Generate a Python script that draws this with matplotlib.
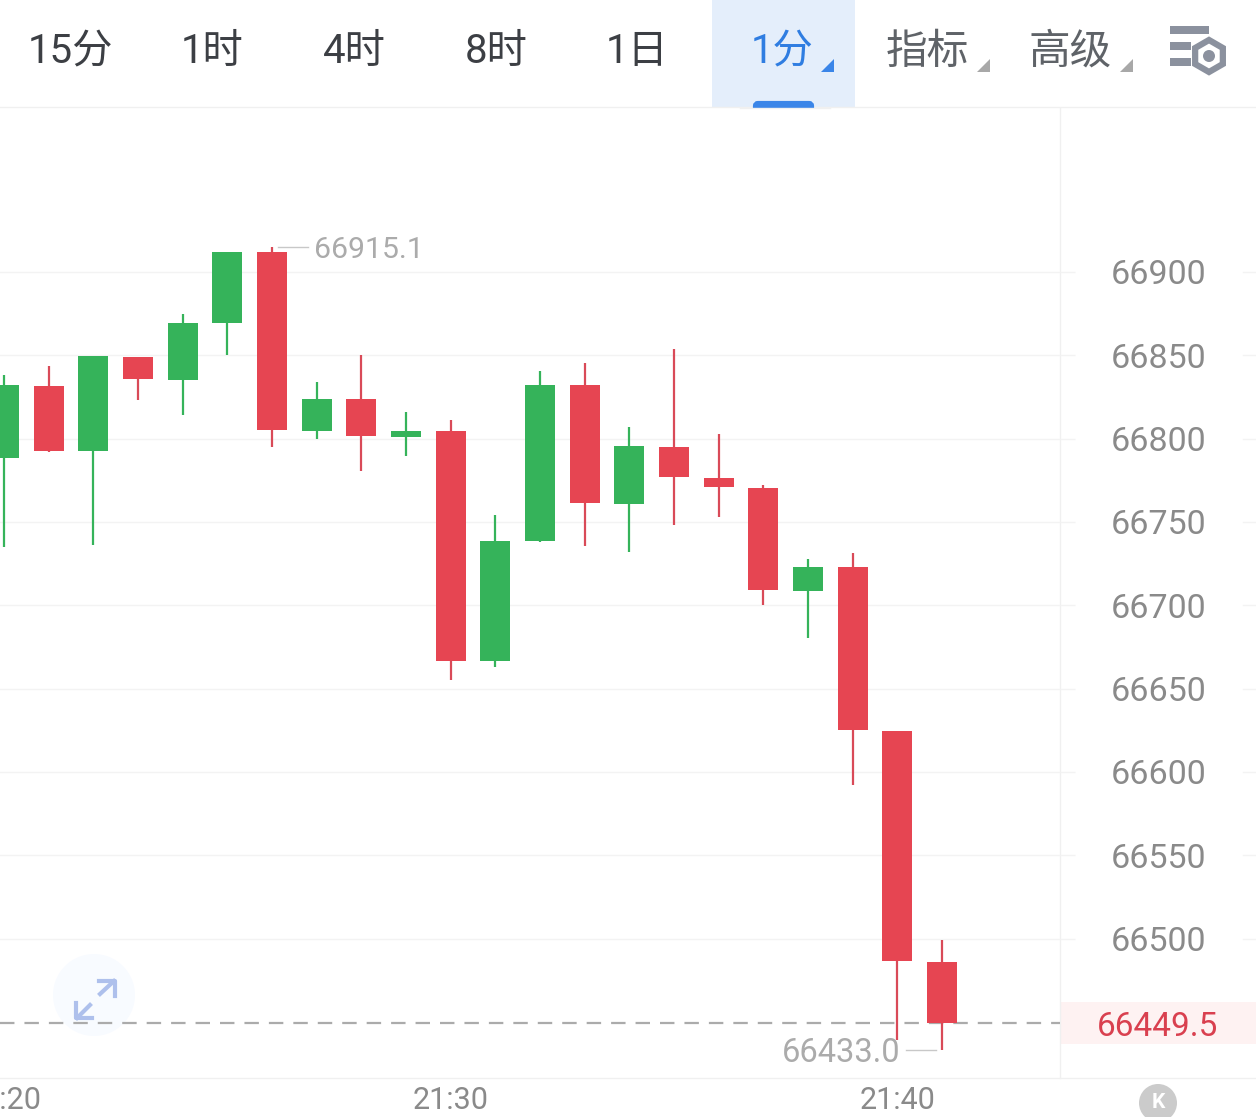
import matplotlib
matplotlib.use("Agg")
import matplotlib.pyplot as plt
from matplotlib.patches import Rectangle, Circle, Polygon, RegularPolygon, FancyBboxPatch

plt.rcParams['font.family'] = ['Roboto', 'Noto Sans CJK SC', 'DejaVu Sans']

# ---- data ----
opens  = [66788.4, 66831.6, 66792.6, 66849.0, 66835.2, 66869.4, 66912.0, 66804.6, 66823.8, 66801.0, 66804.6,
          66666.6, 66738.6, 66832.2, 66760.8, 66795.0, 66776.4, 66770.4, 66708.6, 66723.0, 66624.6, 66486.0]
closes = [66832.2, 66792.6, 66849.6, 66835.8, 66869.4, 66912.0, 66805.2, 66823.8, 66801.6, 66804.6, 66666.6,
          66738.6, 66832.2, 66761.4, 66795.6, 66777.0, 66771.0, 66709.2, 66723.0, 66625.2, 66486.6, 66449.5]
highs  = [66838.2, 66843.6, 66849.6, 66849.0, 66874.8, 66912.0, 66915.1, 66834.0, 66850.2, 66816.0, 66811.2,
          66754.2, 66840.6, 66845.4, 66807.0, 66853.8, 66802.8, 66772.2, 66727.8, 66731.4, 66624.6, 66499.2]
lows   = [66735.0, 66792.0, 66736.2, 66823.2, 66814.2, 66850.2, 66795.0, 66799.8, 66780.6, 66789.6, 66655.2,
          66663.0, 66738.0, 66735.6, 66732.0, 66748.2, 66753.0, 66700.2, 66680.4, 66592.2, 66439.2, 66433.0]
price_ticks = [66900, 66850, 66800, 66750, 66700, 66650, 66600, 66550, 66500]
time_pos = [0, 10, 20]
time_labels = ["21:20", "21:30", "21:40"]
tabs = ["15分", "1时", "4时", "8时", "1日", "1分", "指标", "高级"]
tab_x = [70, 212, 354, 496, 637, 782, 927, 1070]
last_price = 66449.5
max_price = 66915.1
min_price = 66433.0

W, H = 1256, 1117
UP = "#35B35A"
DOWN = "#E64552"
DOWN_WICK = "#D94A58"
GRID = "#F3F3F3"
TICKC = "#8A8A8A"

fig = plt.figure(figsize=(W / 100, H / 100), dpi=100, facecolor="white")

# pixel overlay (background furniture)
bg = fig.add_axes([0, 0, 1, 1], zorder=0)
bg.set_xlim(0, W)
bg.set_ylim(H, 0)
bg.axis("off")
bg.add_patch(Rectangle((712, 0), 143, 107, color="#E4EEFB", lw=0))
bg.add_patch(Rectangle((1060, 1002), 196, 42, color="#FEF2F2", lw=0))
bg.add_patch(Circle((94, 995), 41, color="#F8FBFF", lw=0))
bg.plot([0, W], [107, 107], color="#F0F0F0", lw=1)
bg.plot([0, W], [1078, 1078], color="#F0F0F0", lw=1)
bg.plot([1059.5, 1059.5], [108, 1078], color="#F0F0F0", lw=1)
for t in price_ticks:
    y = 272 + (66900 - t) * 1.6663
    bg.plot([1243, W], [y, y], color=GRID, lw=1)

# main chart axes
L, R, T, B = 0, 1060, 108, 1078
ax = fig.add_axes([L / W, 1 - B / H, (R - L) / W, (B - T) / H], zorder=1)
ax.patch.set_alpha(0)
step = 44.67
ax.set_xlim((0 - 4) / step, (1060 - 4) / step)
ax.set_ylim(66900 - (B - 272) / 1.6663, 66900 + (272 - T) / 1.6663)
for s in ax.spines.values():
    s.set_visible(False)

ax.yaxis.tick_right()
ax.set_yticks(price_ticks)
ax.set_yticklabels([str(t) for t in price_ticks], fontsize=24.5, color=TICKC, ha="center")
ax.tick_params(axis="y", length=11, width=1, color=GRID, pad=60)
ax.grid(axis="y", color=GRID, lw=1)
ax.set_axisbelow(True)
ax.set_xticks(time_pos)
ax.set_xticklabels(time_labels, fontsize=22, color=TICKC)
ax.tick_params(axis="x", length=0, pad=6)

# candles
for i, (o, c, h, l) in enumerate(zip(opens, closes, highs, lows)):
    col = UP if c >= o else DOWN
    wick = UP if c >= o else DOWN_WICK
    ax.plot([i, i], [l, h], color=wick, lw=1.6, solid_capstyle="butt", zorder=3)
    ax.bar(i, abs(c - o), bottom=min(o, c), width=30 / step, color=col, lw=0, zorder=4)

# last price line
ax.axhline(last_price, color="#ABABAB", lw=1.6, dashes=(6.5, 4.5), zorder=2)

# max / min annotations
ax.plot([6 + 6 / step, 6 + 36 / step], [max_price, max_price], color="#C8C8C8", lw=1)
ax.plot([21 - 36 / step, 21 - 6 / step], [min_price, min_price], color="#C8C8C8", lw=1)

# pixel overlay (foreground)
fg = fig.add_axes([0, 0, 1, 1], zorder=2)
fg.set_xlim(0, W)
fg.set_ylim(H, 0)
fg.axis("off")
fg.patch.set_alpha(0)

fg.text(314, 250, f"{max_price}", fontsize=21.8, color="#ABABAB", va="center", ha="left")
fg.text(900, 1053, f"{min_price:.1f}", fontsize=23.5, color="#ABABAB", va="center", ha="right")
fg.text(1158, 1027, f"{last_price}", fontsize=24, color="#D9404F", ha="center", va="center")

for lab, x in zip(tabs, tab_x):
    col = "#2F7DE1" if lab == "1分" else ("#5F6368" if lab in ("指标", "高级") else "#3C3F44")
    size = 30 if lab in ("指标", "高级") else 29
    fg.text(x, 52, lab, fontsize=size, color=col, ha="center", va="center")

fg.add_patch(FancyBboxPatch((755, 103), 57, 8, boxstyle="round,pad=0,rounding_size=3", mutation_aspect=1,
                            color="#3A85E8", lw=3, clip_on=True))
fg.add_patch(Rectangle((740, 107.5), 90, 12, color="white", lw=0, zorder=5))
fg.plot([740, 830], [107.5, 107.5], color="#F0F0F0", lw=1, zorder=6)
for x, c in ((834, "#3A85E8"), (990, "#A8A8A8"), (1133, "#A8A8A8")):
    fg.add_patch(Polygon([(x - 13, 72), (x, 72), (x, 59)], color=c, lw=0))

# settings icon
IC = "#8B919E"
fg.add_patch(Rectangle((1170, 26), 39, 8, color=IC, lw=0))
fg.add_patch(Rectangle((1170, 42), 21, 8, color=IC, lw=0))
fg.add_patch(Rectangle((1170, 58), 21, 8, color=IC, lw=0))
fg.add_patch(RegularPolygon((1209, 56), 6, radius=16, facecolor="none", edgecolor=IC, lw=4.5))
fg.add_patch(Circle((1209, 56), 6, color=IC, lw=0))

# expand icon
AC = "#AEC0EC"
fg.plot([100, 114], [994, 981], color=AC, lw=3)
fg.plot([99, 115, 115], [981, 981, 996], color=AC, lw=3)
fg.plot([77, 90], [1018, 1005], color=AC, lw=3)
fg.plot([76, 76, 92], [1003, 1018, 1018], color=AC, lw=3)

# K button
fg.add_patch(Circle((1158, 1103), 19, color="#CBCBCB", lw=0))
fg.text(1158, 1103, "K", fontsize=15, fontweight="bold", color="white", ha="center", va="center")

fig.savefig("out.png", dpi=100, facecolor="white")
